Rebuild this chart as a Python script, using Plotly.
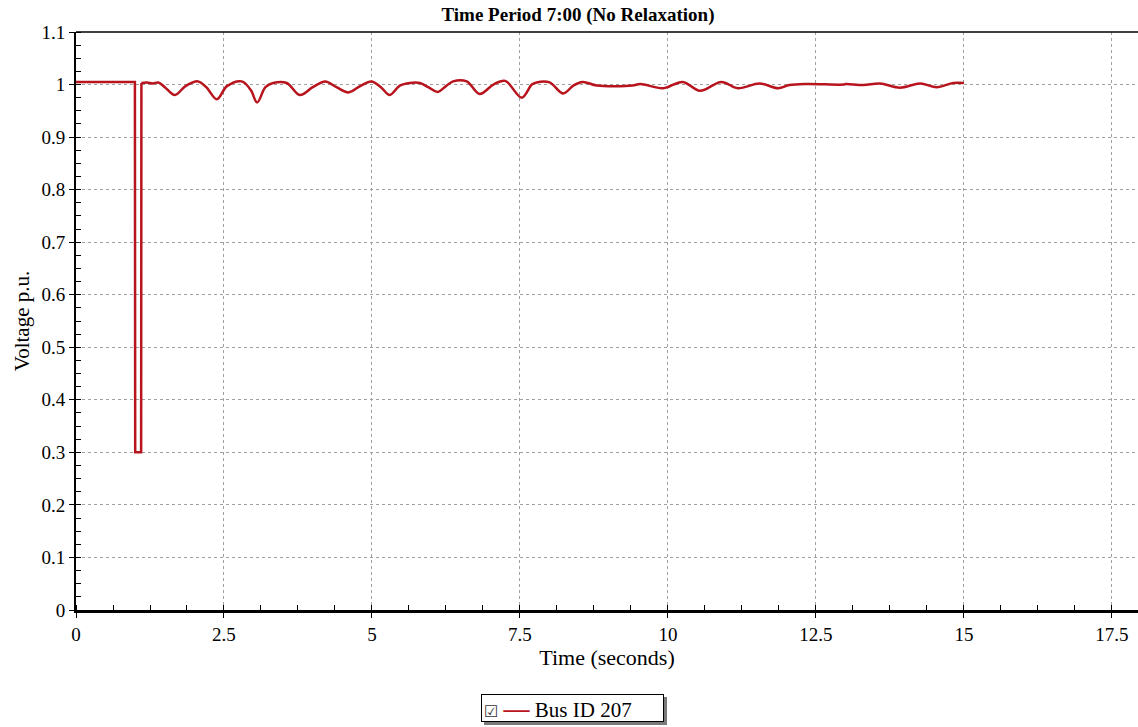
import plotly.graph_objects as go

time_s = [0, 0.995, 1.0, 1.1, 1.105, 1.2, 1.3, 1.39, 1.5, 1.67, 1.85, 2.06, 2.2, 2.38, 2.55,
          2.8, 2.95, 3.06, 3.2, 3.33, 3.56, 3.78, 4.0, 4.21, 4.4, 4.6, 4.8, 4.99, 5.15,
          5.30, 5.47, 5.64, 5.81, 5.95, 6.11, 6.25, 6.37, 6.6, 6.82, 7.05, 7.25, 7.53,
          7.7, 7.78, 8.0, 8.23, 8.4, 8.56, 8.8, 9.4, 9.53, 9.92, 10.25, 10.54, 10.9,
          11.18, 11.55, 11.86, 12.05, 12.34, 12.97, 13.0, 13.3, 13.58, 13.92, 14.26,
          14.54, 14.82, 15.0]
voltage_pu = [1.005, 1.005, 0.30, 0.30, 1.003, 1.004, 1.002, 1.004, 0.995, 0.980, 0.997, 1.006,
              0.995, 0.972, 0.997, 1.006, 0.990, 0.966, 0.995, 1.003, 1.003, 0.980, 0.995,
              1.006, 0.995, 0.985, 0.997, 1.006, 0.995, 0.980, 0.998, 1.003, 1.003, 0.995,
              0.986, 0.997, 1.006, 1.006, 0.982, 1.000, 1.007, 0.975, 1.000, 1.004, 1.004,
              0.983, 0.998, 1.005, 0.998, 0.998, 1.001, 0.993, 1.005, 0.988, 1.005, 0.993,
              1.002, 0.993, 0.999, 1.001, 1.000, 1.001, 0.999, 1.002, 0.994, 1.002, 0.995,
              1.003, 1.003]
series_name = "Bus ID 207"
chart_title = "Time Period 7:00 (No Relaxation)"
x_ticks = [0, 2.5, 5, 7.5, 10, 12.5, 15, 17.5]
y_ticks = [0, 0.1, 0.2, 0.3, 0.4, 0.5, 0.6, 0.7, 0.8, 0.9, 1.0, 1.1]

FONT = "Liberation Serif"
LINE_COLOR = "#B8141E"

# fault part (sharp steps) drawn linear, recovery oscillations drawn smooth
split = 5
fig = go.Figure()
fig.add_trace(go.Scatter(
    x=time_s[:split], y=voltage_pu[:split], mode="lines", name=series_name,
    legendgroup="bus", line=dict(color=LINE_COLOR, width=2.5), showlegend=False,
))
fig.add_trace(go.Scatter(
    x=time_s[split - 1:], y=voltage_pu[split - 1:], mode="lines", name=series_name,
    legendgroup="bus", line=dict(color=LINE_COLOR, width=2.5, shape="spline", smoothing=1.0),
    showlegend=False,
))

fig.update_layout(
    width=1138, height=727,
    paper_bgcolor="white", plot_bgcolor="white",
    margin=dict(l=76, r=0, t=32, b=117, autoexpand=False),
    font=dict(family=FONT, color="black", size=18),
    title=dict(text="<b>" + chart_title + "</b>", x=578 / 1138, xref="container",
               y=1 - 14 / 727, yref="container", xanchor="center", yanchor="middle",
               font=dict(family=FONT, size=19, color="black")),
    showlegend=False,
)

fig.update_xaxes(
    range=[0, 17.94], tickvals=x_ticks, ticktext=[("%g" % v) for v in x_ticks],
    showgrid=True, gridcolor="#a0a0a0", griddash="3px,3px", gridwidth=1,
    showline=True, linecolor="black", linewidth=2.5,
    ticks="outside", ticklen=5, tickcolor="black",
    minor=dict(dtick=0.625, tick0=0, ticks="inside", ticklen=5, tickcolor="black", showgrid=False),
    zeroline=False, automargin=False,
    title=dict(text="Time (seconds)", font=dict(family=FONT, size=22), standoff=4),
    tickfont=dict(family=FONT, size=19),
)
fig.update_yaxes(
    range=[0, 1.1], tickvals=y_ticks, ticktext=[("%g" % v) for v in y_ticks],
    showgrid=True, gridcolor="#a0a0a0", griddash="3px,3px", gridwidth=1,
    showline=True, linecolor="black", linewidth=2,
    ticks="outside", ticklen=5, tickcolor="black",
    minor=dict(dtick=0.025, tick0=0, ticks="inside", ticklen=5, tickcolor="black", showgrid=False),
    zeroline=False, automargin=False,
    title=dict(text="Voltage p.u.", font=dict(family=FONT, size=21), standoff=6),
    tickfont=dict(family=FONT, size=19),
)

# top frame line
fig.add_shape(type="line", xref="paper", yref="paper", x0=0, x1=1, y0=1, y1=1,
              line=dict(color="black", width=1.5))

# legend box (checkbox + line sample + series name), with a drop shadow
legend_x = (572 - 76) / 1062
legend_y = -(708 - 610) / 578
legend_text = ("<span style='font-family:DejaVu Sans;font-size:16px;color:#333'>☑</span> "
               "<span style='color:" + LINE_COLOR + ";font-size:26px'><b>—</b></span> "
               + series_name)
fig.add_annotation(text=" ", xref="paper", yref="paper", x=legend_x, y=legend_y,
                   xshift=3, yshift=-3, width=177, height=22, borderpad=2,
                   bgcolor="#7a7a7a", borderwidth=1, bordercolor="#7a7a7a",
                   xanchor="center", yanchor="middle", showarrow=False)
fig.add_annotation(text=legend_text, xref="paper", yref="paper", x=legend_x, y=legend_y,
                   width=177, height=22, borderpad=2, align="left", valign="middle",
                   bgcolor="white", borderwidth=1, bordercolor="black",
                   xanchor="center", yanchor="middle", showarrow=False,
                   font=dict(family=FONT, size=21, color="black"))

fig.write_html("out.html",
               config={"displayModeBar": False},
               post_script="document.body.style.margin='0';document.body.style.padding='0';")
